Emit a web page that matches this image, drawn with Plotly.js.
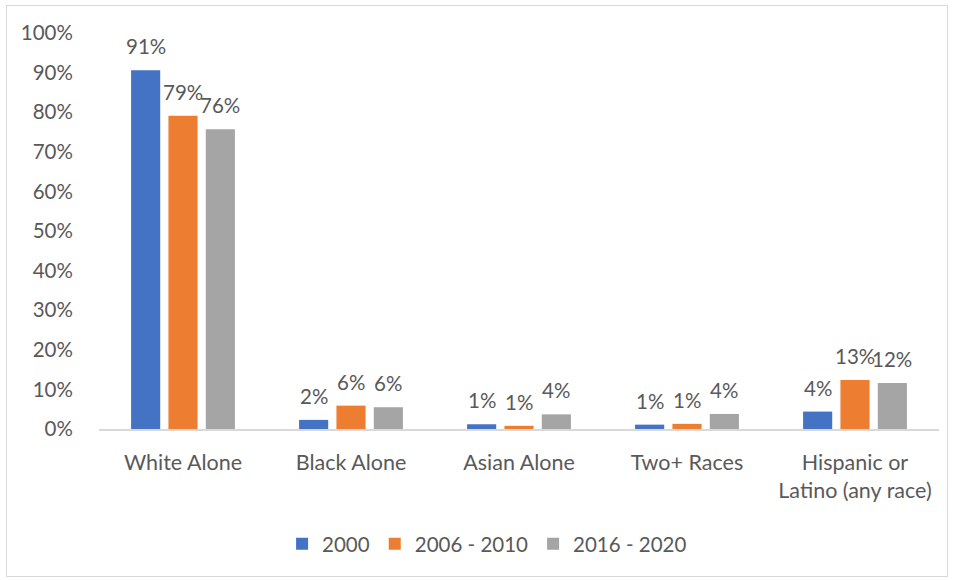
<!DOCTYPE html>
<html>
<head>
<meta charset="utf-8">
<script src="https://cdn.plot.ly/plotly-3.0.1.min.js"></script>
<style>
  html, body { margin: 0; padding: 0; background: #ffffff; }
  #wrap { position: relative; width: 956px; height: 580px; }
  #frame { position: absolute; left: 6px; top: 5px; width: 942px; height: 572px; border: 1.5px solid #d9d9d9; box-sizing: border-box; pointer-events: none; z-index: 5; }
  #chart { width: 956px; height: 580px; }
</style>
</head>
<body>
<div id="wrap">
  <div id="chart"></div>
  <div id="frame"></div>
</div>
<script>
const categories = ["White Alone", "Black Alone", "Asian Alone", "Two+ Races", "Hispanic or<br>Latino (any race)"];
const seriesNames = ["2000", "2006 - 2010", "2016 - 2020"];
const values2000 = [90.6, 2.3, 1.2, 1.1, 4.4];
const values2006 = [79.1, 5.9, 0.8, 1.3, 12.4];
const values2016 = [75.7, 5.5, 3.7, 3.8, 11.6];
const labels2000 = ["91%", "2%", "1%", "1%", "4%"];
const labels2006 = ["79%", "6%", "1%", "1%", "13%"];
const labels2016 = ["76%", "6%", "4%", "4%", "12%"];
const colors = ["#4472c4", "#ed7d31", "#a5a5a5"];

const allValues = [values2000, values2006, values2016];
const allLabels = [labels2000, labels2006, labels2016];

const font = "Lato, 'Open Sans', sans-serif";
const txt = "#595959";

const traces = allValues.map((vals, i) => ({
  type: "bar",
  name: seriesNames[i],
  x: categories,
  y: vals,
  marker: { color: colors[i] },
  hoverinfo: "skip"
}));

const shifts = [-37.3, 0, 37.3];
const annotations = [];
allValues.forEach((vals, i) => {
  vals.forEach((v, j) => {
    annotations.push({
      x: categories[j], y: v, xref: "x", yref: "y",
      text: allLabels[i][j], showarrow: false,
      xanchor: "center", yanchor: "bottom",
      xshift: shifts[i], yshift: 10,
      font: { family: font, size: 20.5, color: txt }
    });
  });
});

const layout = {
  width: 956, height: 580,
  margin: { l: 99, r: 17, t: 33, b: 151 },
  paper_bgcolor: "#ffffff", plot_bgcolor: "#ffffff",
  font: { family: font, size: 20.5, color: txt },
  barmode: "group",
  bargap: 0.333,
  bargroupgap: 0.22,
  showlegend: true,
  legend: {
    orientation: "h", x: 0.462, xanchor: "center", y: -0.29, yanchor: "middle",
    font: { family: font, size: 20.5, color: txt },
    itemwidth: 30, traceorder: "normal"
  },
  xaxis: {
    type: "category",
    showline: true, linecolor: "#d9d9d9", linewidth: 2,
    showgrid: false, zeroline: false,
    ticks: "outside", ticklen: 13, tickcolor: "rgba(0,0,0,0)",
    tickfont: { family: font, size: 21.5, color: txt }
  },
  yaxis: {
    range: [0, 100], dtick: 10, ticksuffix: "%",
    showgrid: false, zeroline: false, showline: false,
    ticks: "outside", ticklen: 21, tickcolor: "rgba(0,0,0,0)",
    tickfont: { family: font, size: 20.5, color: txt }
  },
  annotations: annotations
};

Plotly.newPlot("chart", traces, layout, { displayModeBar: false, staticPlot: true });
</script>
</body>
</html>
